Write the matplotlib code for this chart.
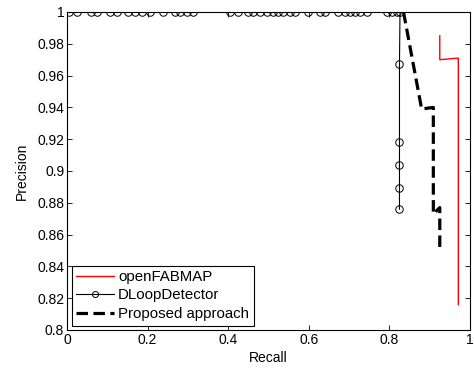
import numpy as np
import matplotlib
matplotlib.use("Agg")
import matplotlib.pyplot as plt

plt.rcParams['font.family'] = ['Liberation Sans', 'DejaVu Sans']

# openFABMAP
fab_recall = [0.925, 0.925, 0.971, 0.971]
fab_prec = [0.985, 0.970, 0.971, 0.816]

# DLoopDetector (circle markers)
dl_px = [69, 77, 91, 97, 110, 117, 128, 135, 142, 150, 163, 175, 180, 187, 193,
         230, 238, 248, 253, 260, 267, 273, 278, 283, 290, 295, 308, 320, 325,
         338, 345, 350, 355, 360, 367, 387, 392, 397, 400]
dl_recall = [(p - 67) / 403.0 for p in dl_px] + [0.825, 0.825, 0.825, 0.825, 0.825]
dl_prec = [1.0] * len(dl_px) + [0.967, 0.918, 0.904, 0.889, 0.876]

# Proposed approach
prop_recall = [0.835, 0.880, 0.909, 0.909, 0.925, 0.925]
prop_prec = [1.0, 0.939, 0.940, 0.873, 0.877, 0.851]

fig = plt.figure(figsize=(4.74, 3.74), dpi=100)
ax = fig.add_axes([67/474, 44/374, 403/474, 318/374])

ax.plot(fab_recall, fab_prec, color='red', lw=1.0, label='openFABMAP')
ax.plot(dl_recall, dl_prec, color='black', lw=0.8, marker='o', ms=5.4,
        mfc='none', mec='black', mew=0.7, label='DLoopDetector')
ax.plot(prop_recall, prop_prec, color='black', lw=2.3, ls=(0, (3.6, 1.7)),
        label='Proposed approach')

ax.set_xlim(0, 1)
ax.set_ylim(0.8, 1)
ax.set_xticks(np.arange(0, 1.01, 0.2))
ax.set_xticklabels(['0', '0.2', '0.4', '0.6', '0.8', '1'])
yt = np.arange(0.8, 1.001, 0.02)
ax.set_yticks(yt)
ax.set_yticklabels(['0.8', '0.82', '0.84', '0.86', '0.88', '0.9', '0.92',
                    '0.94', '0.96', '0.98', '1'])
ax.tick_params(direction='in', top=True, right=True, length=3.5, width=0.6,
               labelsize=10, pad=2)
for s in ax.spines.values():
    s.set_linewidth(0.8)
ax.set_xlabel('Recall', fontsize=10, labelpad=3)
ax.set_ylabel('Precision', fontsize=10, labelpad=6)

leg = ax.legend(loc='lower left', fontsize=10.8, fancybox=False, framealpha=1,
                edgecolor='black', borderaxespad=0.3, handlelength=2.5,
                handletextpad=0.3, labelspacing=0.3, borderpad=0.3,
                markerscale=0.8)
leg.get_frame().set_linewidth(0.8)

fig.savefig('out.png', dpi=100)
